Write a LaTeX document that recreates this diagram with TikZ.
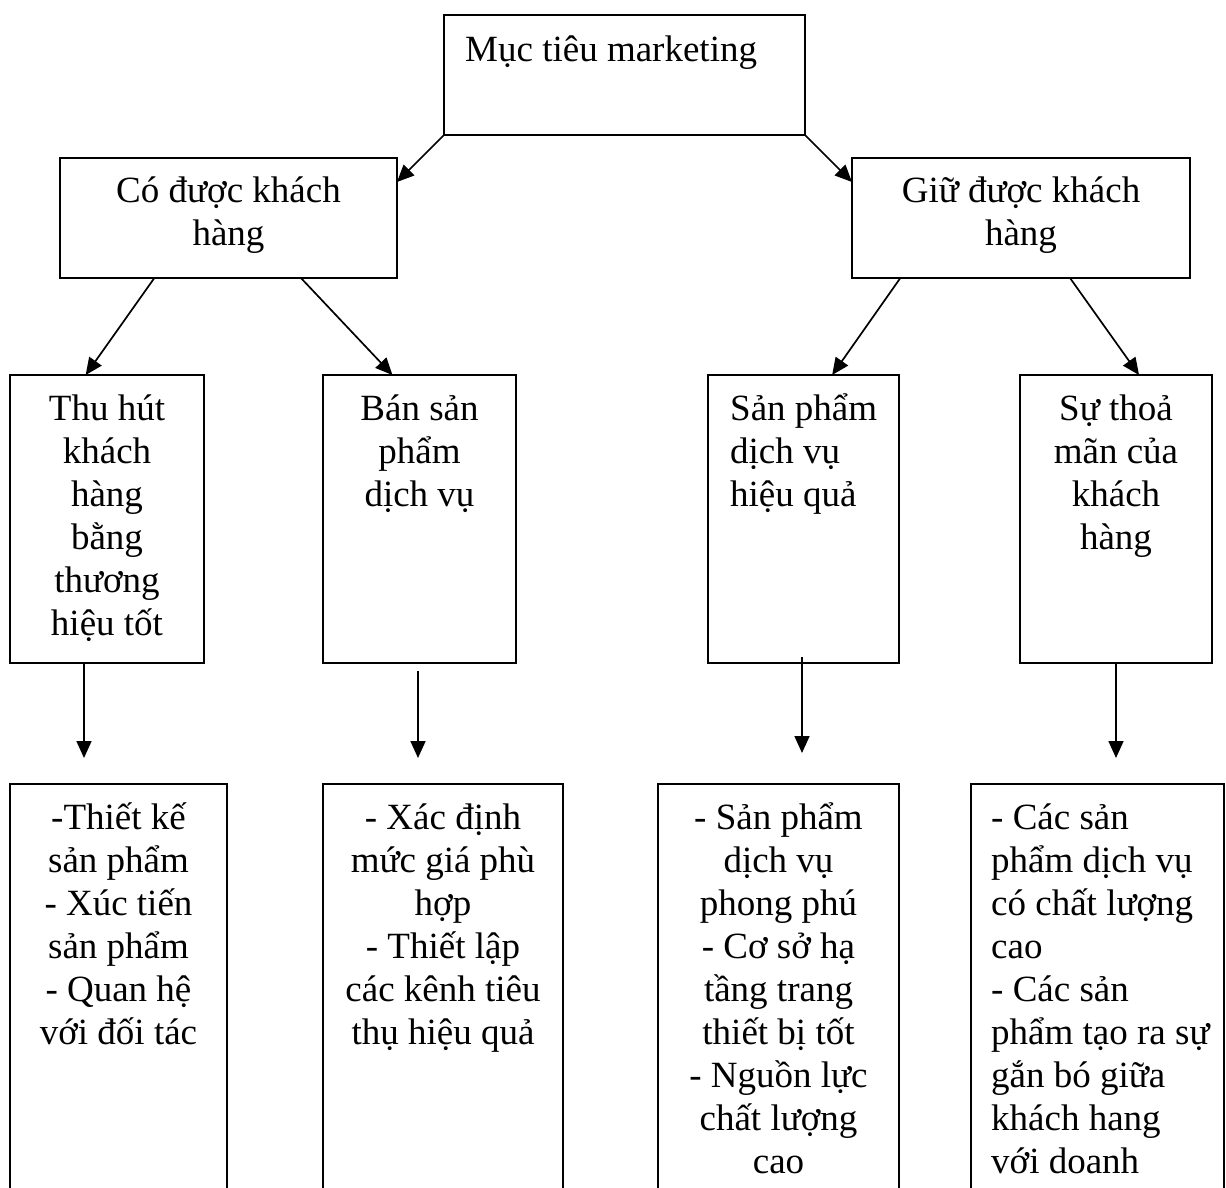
\documentclass[tikz,border=0pt]{standalone}
\usepackage{fontspec}
\setmainfont{Liberation Serif}
\usetikzlibrary{arrows.meta,calc}
% fixed-height strut so every text block's first baseline sits at a known depth
\newcommand{\lnstrut}{\rule{0pt}{40pt}}
\begin{document}
\begin{tikzpicture}[x=1pt,y=-1pt,
  box/.style={draw,line width=1.8pt,inner sep=0pt,outer sep=0pt,anchor=north west},
  txt/.style={inner sep=0pt,font=\fontsize{37}{43}\selectfont,align=center,anchor=north},
  ltxt/.style={txt,align=left,anchor=north west},
  arr/.style={line width=1.7pt,-{Triangle[length=17pt,width=15pt]}}]
\useasboundingbox (0,0) rectangle (1226,1187);

% boxes
\node[box,minimum width=361pt,minimum height=120pt] (top) at (444,15) {};
\node[box,minimum width=337pt,minimum height=120pt] (L2a) at (60,158) {};
\node[box,minimum width=338pt,minimum height=120pt] (L2b) at (852,158) {};
\node[box,minimum width=194pt,minimum height=288pt] (L3a) at (10,375) {};
\node[box,minimum width=193pt,minimum height=288pt] (L3b) at (323,375) {};
\node[box,minimum width=191pt,minimum height=288pt] (L3c) at (708,375) {};
\node[box,minimum width=192pt,minimum height=288pt] (L3d) at (1020,375) {};
\node[box,minimum width=217pt,minimum height=440pt] (B1) at (10,784) {};
\node[box,minimum width=240pt,minimum height=440pt] (B2) at (323,784) {};
\node[box,minimum width=241pt,minimum height=440pt] (B3) at (658,784) {};
\node[box,minimum width=253pt,minimum height=440pt] (B4) at (971,784) {};

% texts
\node[ltxt] (topT) at ($(top.north west)+(21,6)$) {\lnstrut Mục tiêu marketing};
\node[txt] (L2aT) at ($(L2a.north)+(0,4)$) {\lnstrut Có được khách\\hàng};
\node[txt] (L2bT) at ($(L2b.north)+(0,4)$) {\lnstrut Giữ được khách\\hàng};
\node[txt] (L3aT) at ($(L3a.north)+(0,5)$) {\lnstrut Thu hút\\khách\\hàng\\bằng\\thương\\hiệu tốt};
\node[txt] (L3bT) at ($(L3b.north)+(0,5)$) {\lnstrut Bán sản\\phẩm\\dịch vụ};
\node[ltxt] (L3cT) at ($(L3c.north west)+(22,5)$) {\lnstrut Sản phẩm\\dịch vụ\\hiệu quả};
\node[txt] (L3dT) at ($(L3d.north)+(0,5)$) {\lnstrut Sự thoả\\mãn của\\khách\\hàng};
\node[txt] (B1T) at ($(B1.north)+(0,5)$) {\lnstrut -Thiết kế\\sản phẩm\\- Xúc tiến\\sản phẩm\\- Quan hệ\\với đối tác};
\node[txt] (B2T) at ($(B2.north)+(0,5)$) {\lnstrut - Xác định\\mức giá phù\\hợp\\- Thiết lập\\các kênh tiêu\\thụ hiệu quả};
\node[txt] (B3T) at ($(B3.north)+(0,5)$) {\lnstrut - Sản phẩm\\dịch vụ\\phong phú\\- Cơ sở hạ\\tầng trang\\thiết bị tốt\\- Nguồn lực\\chất lượng\\cao};
\node[ltxt] (B4T) at ($(B4.north west)+(20,5)$) {\lnstrut - Các sản\\phẩm dịch vụ\\có chất lượng\\cao\\- Các sản\\phẩm tạo ra sự\\gắn bó giữa\\khách hang\\với doanh};

% diagonal connectors
\draw[arr] (top.south west) -- ($(L2a.north east)!0.2!(L2a.south east)$);
\draw[arr] (top.south east) -- ($(L2b.north west)!0.2!(L2b.south west)$);
\draw[arr] ($(L2a.south west)!0.28!(L2a.south east)$) -- ($(L3a.north west)!0.39!(L3a.north east)$);
\draw[arr] ($(L2a.south west)!0.715!(L2a.south east)$) -- ($(L3b.north west)!0.36!(L3b.north east)$);
\draw[arr] ($(L2b.south west)!0.143!(L2b.south east)$) -- ($(L3c.north west)!0.65!(L3c.north east)$);
\draw[arr] ($(L2b.south west)!0.645!(L2b.south east)$) -- ($(L3d.north west)!0.62!(L3d.north east)$);

% vertical connectors
\coordinate (t1) at (84,758);
\coordinate (s2) at (418,671);
\coordinate (t2) at (418,758);
\coordinate (s3) at (802,657);
\coordinate (t3) at (802,753);
\coordinate (t4) at (1116,758);
\draw[arr] (L3a.south -| t1) -- (t1);
\draw[arr] (s2) -- (t2);
\draw[arr] (s3) -- (t3);
\draw[arr] (L3d.south -| t4) -- (t4);
\end{tikzpicture}
\end{document}
